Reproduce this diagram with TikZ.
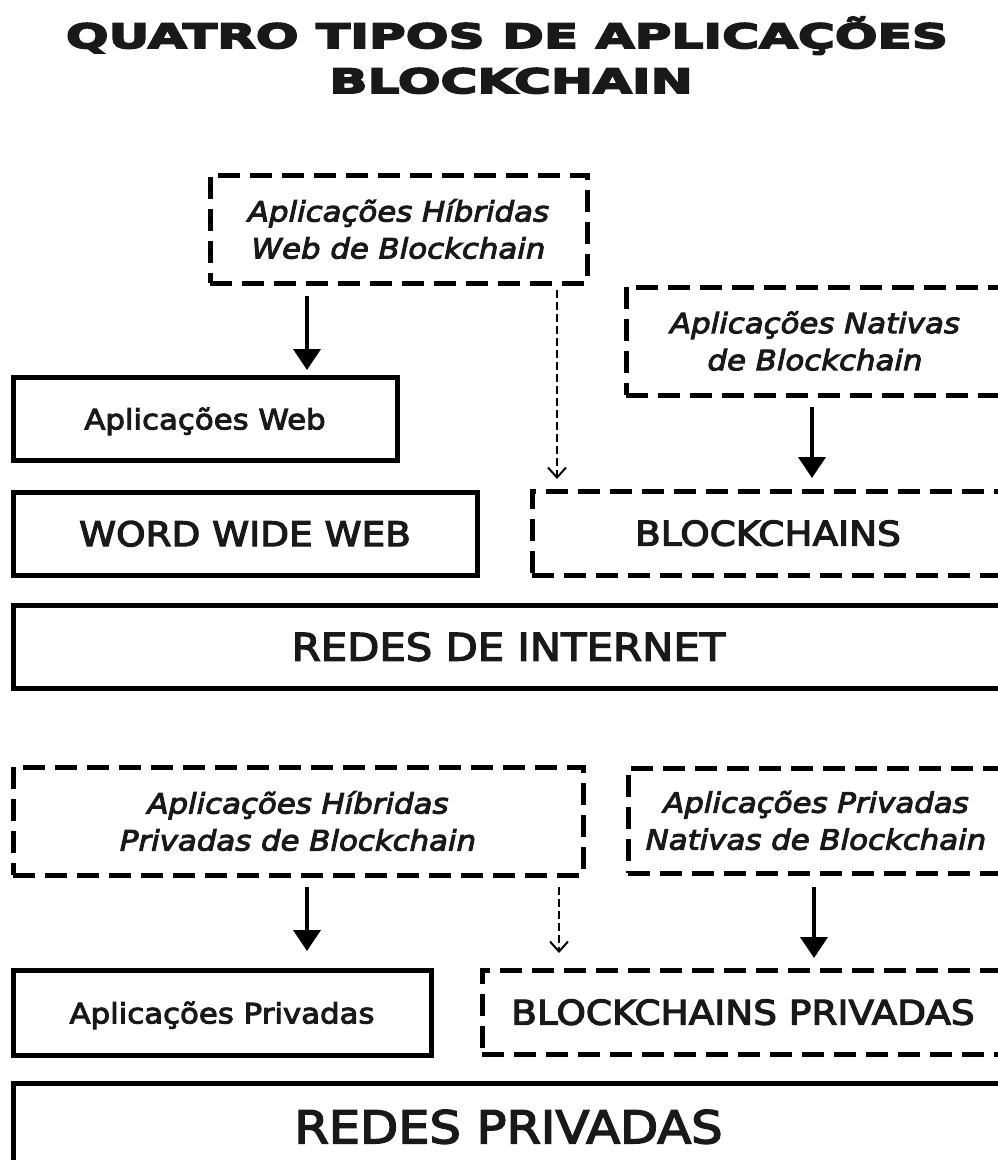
\documentclass[tikz,border=0pt]{standalone}
\usepackage{fontspec}
\setmainfont{DejaVu Sans}[FakeStretch=1.1, FakeBold=3.5]
\newfontfamily\titlefont{DejaVu Sans Bold}[FakeStretch=1.5, FakeBold=5.5]
\usetikzlibrary{arrows.meta}
\begin{document}
\begin{tikzpicture}[x=1pt,y=-1pt,
  box/.style={draw=black, line width=5pt, inner sep=0pt, outer sep=0pt, align=center, text=black!90},
  solidbox/.style={box},
  dashbox/.style={box, dash pattern=on 22pt off 10pt},
  lowertxt/.style={font=\fontsize{28}{37}\selectfont},
  lowerit/.style={font=\fontsize{28}{37}\selectfont\itshape},
  capstxt/.style={font=\fontsize{34}{40}\selectfont},
  oneline/.style={text depth=0pt},
  bigarr/.style={line width=4pt, -{Triangle[width=27pt,length=21pt]}},
  thinarr/.style={line width=1.8pt, dash pattern=on 8pt off 4pt, -{Straight Barb[width=18pt,length=10pt,line width=2pt]}},
  titletxt/.style={anchor=base, inner sep=0pt, text=black!90, font=\titlefont\fontsize{33.5}{45}\selectfont}
]
\useasboundingbox (0,0) rectangle (998,1160);
\clip (0,0) rectangle (998,1160);

% title
\node[titletxt] (t1) at (507,48) {QUATRO TIPOS DE APLICAÇÕES};
\node[titletxt] (t2) at (511,93) {BLOCKCHAIN};

% upper part
\node[dashbox, lowerit, minimum width=377pt, minimum height=108pt] (A) at (398.5,229)
  {Aplicações Híbridas\\Web de Blockchain};
\node[solidbox, lowertxt, oneline, minimum width=384pt, minimum height=83pt] (B) at (205,418.5)
  {Aplicações Web};
\node[dashbox, lowerit, minimum width=378pt, minimum height=108pt] (C) at (815,341)
  {Aplicações Nativas\\de Blockchain};
\node[solidbox, capstxt, oneline, minimum width=464pt, minimum height=83pt] (D) at (245,533.5)
  {WORD WIDE WEB};
\node[dashbox, capstxt, oneline, minimum width=472pt, minimum height=84pt] (E) at (768,533)
  {BLOCKCHAINS};
\node[solidbox, oneline, font=\fontsize{38}{44}\selectfont, minimum width=991pt, minimum height=83pt] (F) at (508.5,646.5)
  {REDES DE INTERNET};

% lower part
\node[dashbox, lowerit, minimum width=570pt, minimum height=108pt] (G) at (298,821)
  {Aplicações Híbridas\\Privadas de Blockchain};
\node[dashbox, lowerit, minimum width=376pt, minimum height=105pt] (H) at (816,820.5)
  {Aplicações Privadas\\Nativas de Blockchain};
\node[solidbox, lowertxt, oneline, minimum width=418pt, minimum height=85pt] (I) at (222,1012.5)
  {Aplicações Privadas};
\node[dashbox, capstxt, oneline, minimum width=522pt, minimum height=84pt] (J) at (743,1012)
  {BLOCKCHAINS PRIVADAS};
\node[solidbox, oneline, font=\fontsize{45}{50}\selectfont, minimum width=991pt, minimum height=87pt] (K) at (508.5,1126.5)
  {REDES PRIVADAS};

% connectors
\coordinate (a1) at ([xshift=97pt]A.south west);
\coordinate (a2) at ([xshift=347pt]A.south west);
\coordinate (c1) at ([xshift=186pt]C.south west);
\coordinate (g1) at ([xshift=294pt]G.south west);
\coordinate (g2) at ([xshift=546pt]G.south west);
\coordinate (h1) at ([xshift=186pt]H.south west);

\draw[bigarr, shorten <=13pt, shorten >=7pt] (a1) -- (a1 |- B.north);
\draw[thinarr, shorten <=7pt, shorten >=12pt] (a2) -- (a2 |- E.north);
\draw[bigarr, shorten <=12pt, shorten >=13pt] (c1) -- (c1 |- E.north);
\draw[bigarr, shorten <=12pt, shorten >=19pt] (g1) -- (g1 |- I.north);
\draw[thinarr, shorten <=12pt, shorten >=17pt] (g2) -- (g2 |- J.north);
\draw[bigarr, shorten <=14pt, shorten >=12pt] (h1) -- (h1 |- J.north);
\end{tikzpicture}
\end{document}
